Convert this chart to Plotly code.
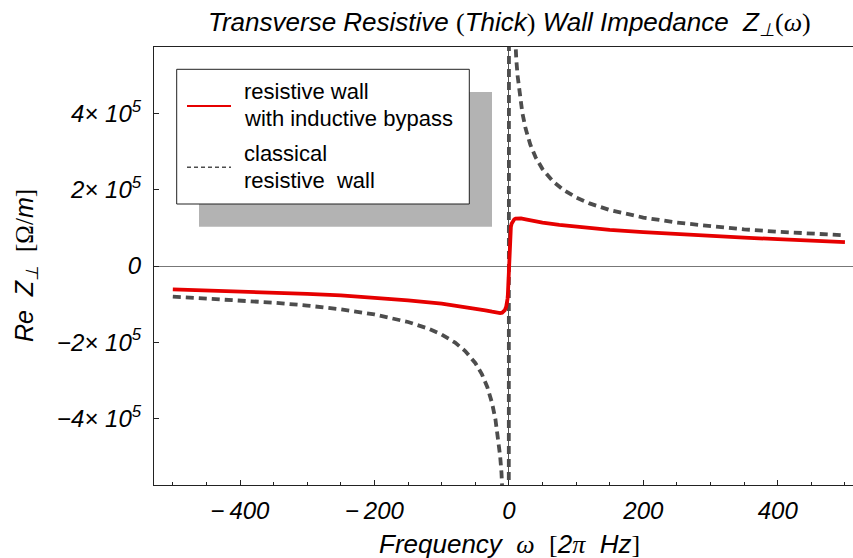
import plotly.graph_objects as go

# ---------------- data ----------------
# classical resistive wall, Re Z_perp [Ohm/m] vs omega [2 pi Hz]
omega_classical = [-500, -450, -400, -350, -300, -250, -200, -150, -120, -100, -80, -65,
                   -50, -40, -32, -25, -20, -16, -13, -11, -9.5, -8, -6, -0.5,
                   0.5, 6, 8, 9.5, 11, 13, 16, 20, 25, 32, 40, 50,
                   65, 80, 100, 120, 150, 200, 250, 300, 350, 400, 450, 500]
re_z_classical = [-80500, -84900, -90000, -96200, -103900, -113800, -127300, -147000, -164300,
                  -180000, -201200, -223300, -254600, -284600, -318200, -360000, -402500,
                  -450000, -499200, -542700, -584000, -636400, -735000, -2546000,
                  2546000, 735000, 636400, 584000, 542700, 499200, 450000, 402500, 360000,
                  318200, 284600, 254600, 223300, 201200, 180000, 164300, 147000, 127300,
                  113800, 103900, 96200, 90000, 84900, 80500]

# resistive wall with inductive bypass
omega_bypass = [-500, -450, -400, -350, -300, -250, -200, -150, -100, -75, -50, -35, -25,
                -18, -13, -10, -8, -6, -4, -3, -2, -1.5, -1, -0.5, 0,
                0.5, 1, 1.5, 2, 3, 4, 6, 8, 10, 13, 18, 25, 35, 50, 75, 100,
                150, 200, 250, 300, 350, 400, 450, 500]
re_z_bypass = [-61500, -64000, -66500, -69500, -73000, -77000, -82500, -90000, -98500,
               -104500, -111500, -116500, -120000, -122500, -123500, -122500, -120500,
               -116000, -107000, -99000, -86000, -75000, -58000, -32000, 0,
               33000, 60000, 78000, 90000, 103000, 111000, 118500, 122500, 124500, 125500,
               125000, 122500, 119000, 114000, 108000, 103000, 95000, 89000, 83500, 79000,
               74500, 70500, 66500, 62500]

x_tick_vals = [-400, -200, 0, 200, 400]
x_tick_text = ["\u2212\u2009400", "\u2212\u2009200", "0", "200", "400"]
y_tick_vals = [-400000, -200000, 0, 200000, 400000]
y_tick_text = ["\u22124\u00d7 10<sup>5</sup>", "\u22122\u00d7 10<sup>5</sup>", "0",
               "2\u00d7 10<sup>5</sup>", "4\u00d7 10<sup>5</sup>"]

legend_labels = [["resistive wall", "with inductive bypass"],
                 ["classical", "resistive\u00a0 wall"]]

# ---------------- layout geometry ----------------
W, H = 853, 558
ML, MR, MT, MB = 154, 0, 47, 73
PW, PH = W - ML - MR, H - MT - MB

SANS = "Liberation Sans, Arial, Helvetica, sans-serif"
SERIF = "Liberation Serif, Times New Roman, serif"
RED = "#e60000"
GREY = "#4d4d4d"


def px(x):
    return (x - ML) / PW


def py(y):
    return (H - MB - y) / PH


def serif(t, italic=False):
    return ("<span style=\"font-family:%s;font-style:%s\">%s</span>"
            % (SERIF, "italic" if italic else "normal", t))


fig = go.Figure()

fig.add_trace(go.Scatter(
    x=omega_classical, y=re_z_classical, mode="lines",
    line=dict(color=GREY, width=3.8, dash="8px,5px"),
    showlegend=False, hoverinfo="skip"))

fig.add_trace(go.Scatter(
    x=omega_bypass, y=re_z_bypass, mode="lines",
    line=dict(color=RED, width=3.8),
    showlegend=False, hoverinfo="skip"))

# ---------------- legend panel with drop shadow ----------------
shapes = [
    dict(type="rect", xref="paper", yref="paper", layer="above",
         x0=px(199), x1=px(492), y0=py(92), y1=py(226.7),
         fillcolor="#b3b3b3", line=dict(width=0)),
    dict(type="rect", xref="paper", yref="paper", layer="above",
         x0=px(176.7), x1=px(469.3), y0=py(69.3), y1=py(204),
         fillcolor="white", line=dict(color="#222222", width=1)),
    dict(type="line", xref="paper", yref="paper", layer="above",
         x0=px(187), x1=px(231), y0=py(106), y1=py(106),
         line=dict(color=RED, width=2)),
    dict(type="line", xref="paper", yref="paper", layer="above",
         x0=px(187), x1=px(231), y0=py(167.3), y1=py(167.3),
         line=dict(color=GREY, width=1.5, dash="4px,3px")),
]

annotations = []
legend_rows = [91.7, 118.3, 153.3, 180.7]
legend_lines = legend_labels[0] + legend_labels[1]
for ty, txt in zip(legend_rows, legend_lines):
    annotations.append(dict(
        text=txt, xref="paper", yref="paper", x=px(242), y=py(ty),
        xanchor="left", yanchor="middle", showarrow=False,
        font=dict(family=SANS, size=22, color="black")))

# title
title_text = ("Transverse Resistive " + serif("(") + "Thick" + serif(")")
              + " Wall Impedance\u00a0\u00a0Z<sub>\u22a5</sub>" + serif("(")
              + serif("\u03c9", True) + serif(")"))
annotations.append(dict(
    text=title_text, xref="paper", yref="paper", x=px(509), y=py(23),
    xanchor="center", yanchor="middle", showarrow=False,
    font=dict(family=SANS, size=26, color="black", style="italic")))

# x axis title
x_title = ("Frequency\u00a0\u00a0" + serif("\u03c9", True) + "\u00a0\u00a0"
           + serif("[") + "2" + serif("\u03c0", True) + "\u00a0\u00a0Hz" + serif("]"))
annotations.append(dict(
    text=x_title, xref="paper", yref="paper", x=px(509), y=py(544),
    xanchor="center", yanchor="middle", showarrow=False,
    font=dict(family=SANS, size=26, color="black", style="italic")))

# y axis title
y_title = ("Re\u00a0\u00a0Z<sub>\u22a5</sub>\u00a0\u00a0" + serif("[\u03a9/")
           + "m" + serif("]"))
annotations.append(dict(
    text=y_title, xref="paper", yref="paper", x=px(26), y=py(266),
    xanchor="center", yanchor="middle", showarrow=False, textangle=-90,
    font=dict(family=SANS, size=25, color="black", style="italic")))

fig.update_layout(
    width=W, height=H,
    margin=dict(l=ML, r=MR, t=MT, b=MB, pad=0),
    paper_bgcolor="white", plot_bgcolor="white",
    shapes=shapes, annotations=annotations,
    showlegend=False,
)

fig.update_xaxes(
    range=[-528, 512], showgrid=False,
    showline=True, mirror=True, linecolor="#222222", linewidth=1.2,
    zeroline=True, zerolinecolor="#555555", zerolinewidth=1,
    ticks="inside", ticklen=5, tickwidth=1, tickcolor="#222222",
    tickmode="array", tickvals=x_tick_vals, ticktext=x_tick_text,
    minor=dict(ticks="inside", ticklen=3, tickwidth=1, tickcolor="#222222",
               tickmode="linear", tick0=0, dtick=50),
    tickfont=dict(family=SANS, size=24, color="black", style="italic"),
    ticklabelstandoff=4,
)

fig.update_yaxes(
    range=[-575000, 575000], showgrid=False,
    showline=True, mirror=False, linecolor="#222222", linewidth=1.2,
    zeroline=True, zerolinecolor="#777777", zerolinewidth=1.2,
    ticks="inside", ticklen=5, tickwidth=1, tickcolor="#222222",
    tickmode="array", tickvals=y_tick_vals, ticktext=y_tick_text,
    tickfont=dict(family=SANS, size=24, color="black", style="italic"),
    ticklabelstandoff=7,
)

fig.write_html("out.html")
